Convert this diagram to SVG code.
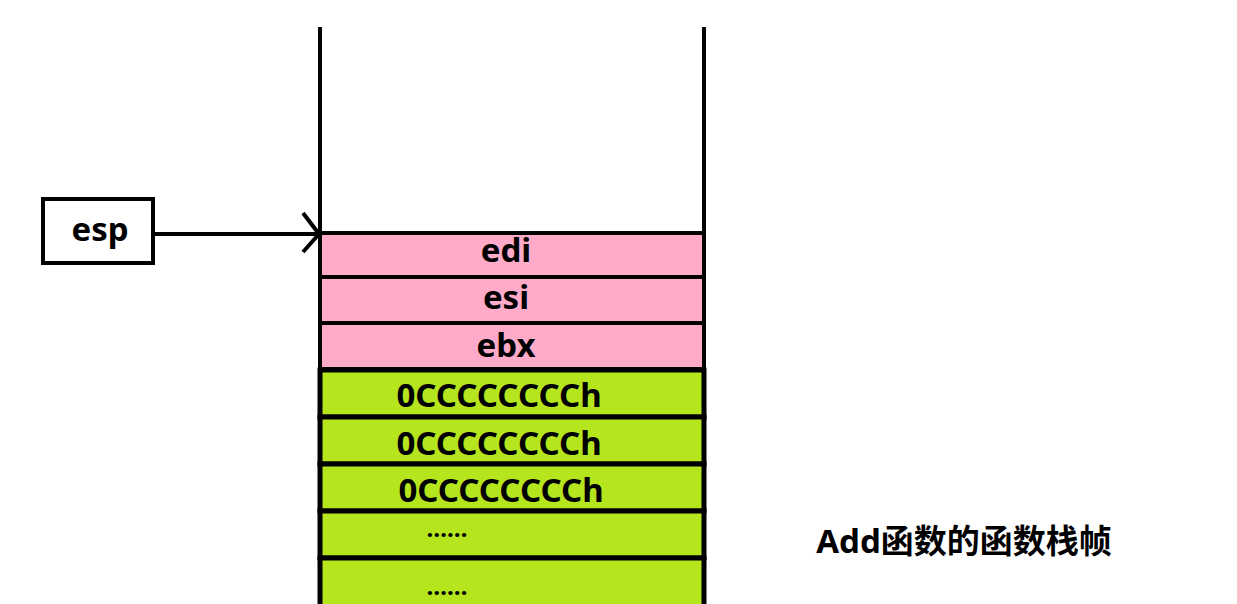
<svg xmlns="http://www.w3.org/2000/svg" width="1237" height="604" viewBox="0 0 1237 604">
<style>
text{font-family:"Noto Sans","Noto Sans CJK SC",sans-serif;font-weight:bold;fill:#000;text-anchor:middle}
.t{font-size:33px}
.d{font-size:24px}
.p{fill:#ffaac8;stroke:#000;stroke-width:4}
.g{fill:#b5e51d;stroke:#000;stroke-width:5}
</style>
<rect width="1237" height="604" fill="#fff"/>
<g id="connectors">
<line x1="320" y1="27" x2="320" y2="604" stroke="#000" stroke-width="4"/>
<line x1="704" y1="27" x2="704" y2="604" stroke="#000" stroke-width="4"/>
<path d="M153 234H318M303 213L319 234L303 252" fill="none" stroke="#000" stroke-width="4"/>
</g>
<g id="esp"><rect x="43" y="199" width="110" height="64" fill="#fff" stroke="#000" stroke-width="4"/><text class="t" x="100" y="241">esp</text></g>
<g id="edi"><rect class="p" x="320" y="233" width="384" height="44"/><text class="t" x="506" y="262">edi</text></g>
<g id="esi"><rect class="p" x="320" y="277" width="384" height="46"/><text class="t" x="506" y="309">esi</text></g>
<g id="ebx"><rect class="p" x="320" y="323" width="384" height="46"/><text class="t" x="506" y="357">ebx</text></g>
<g id="c1"><rect class="g" x="320" y="370" width="384" height="47"/><text class="t" x="499" y="407">0CCCCCCCCh</text></g>
<g id="c2"><rect class="g" x="320" y="417" width="384" height="47"/><text class="t" x="499" y="455">0CCCCCCCCh</text></g>
<g id="c3"><rect class="g" x="320" y="464" width="384" height="47"/><text class="t" x="501" y="502">0CCCCCCCCh</text></g>
<g id="d1"><rect class="g" x="320" y="511" width="384" height="47"/><text class="d" x="447" y="537">……</text></g>
<g id="d2"><rect class="g" x="320" y="558" width="384" height="50"/><text class="d" x="447" y="595">……</text></g>
<text class="t" x="964" y="553">Add函数的函数栈帧</text>
</svg>
